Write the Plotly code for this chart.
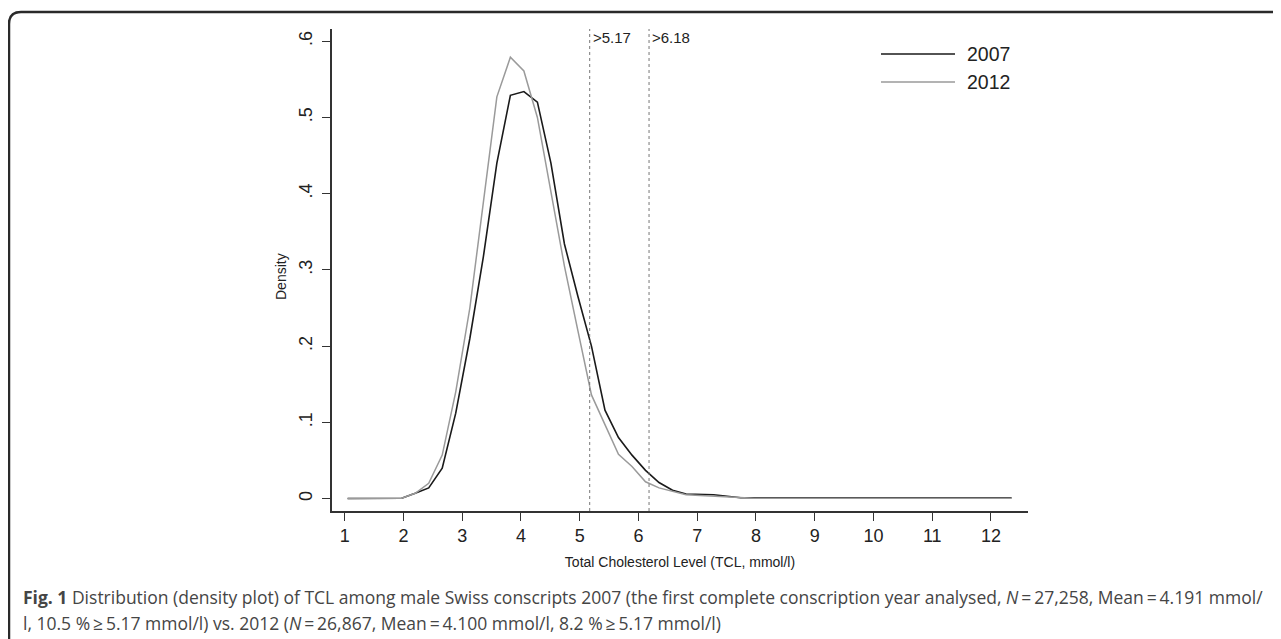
import plotly.graph_objects as go

# ---- data ----
tcl_grid = [1.05, 1.28, 1.51, 1.74, 1.97, 2.20, 2.43, 2.66, 2.89, 3.13,
            3.36, 3.59, 3.82, 4.05, 4.28, 4.51, 4.74, 4.97, 5.20, 5.43,
            5.66, 5.89, 6.12, 6.35, 6.58, 6.81, 7.05, 7.28, 7.51, 7.74,
            7.97, 8.20, 8.43, 8.66, 8.89, 9.12, 9.35, 9.58, 9.81, 10.04,
            10.27, 10.50, 10.73, 10.96, 11.20, 11.43, 11.66, 11.89, 12.12, 12.35]

density_2007 = [0.0, 0.0, 0.0, 0.0, 0.0005, 0.007, 0.014, 0.040, 0.112, 0.210,
                0.317, 0.440, 0.529, 0.534, 0.520, 0.440, 0.334, 0.265, 0.200, 0.116,
                0.080, 0.057, 0.037, 0.021, 0.011, 0.006, 0.005, 0.005, 0.003, 0.001,
                0.001, 0.001, 0.001, 0.001, 0.001, 0.0012, 0.001, 0.001, 0.001, 0.001,
                0.001, 0.001, 0.001, 0.001, 0.001, 0.001, 0.001, 0.001, 0.001, 0.001]

density_2012 = [0.0, 0.0, 0.0, 0.0, 0.0005, 0.007, 0.020, 0.057, 0.140, 0.250,
                0.390, 0.527, 0.579, 0.561, 0.500, 0.400, 0.305, 0.220, 0.136, 0.097,
                0.058, 0.042, 0.022, 0.014, 0.009, 0.005, 0.004, 0.003, 0.002, 0.001,
                0.0005, 0.0005, 0.0005, 0.0005, 0.0005, 0.0005, 0.0005, 0.0005, 0.0005, 0.0005,
                0.0005, 0.0005, 0.0005, 0.0005, 0.0005, 0.0005, 0.0005, 0.0005, 0.0005, 0.0005]

series_names = ["2007", "2012"]
cutoffs = [5.17, 6.18]
cutoff_labels = [">5.17", ">6.18"]
x_ticks = [1, 2, 3, 4, 5, 6, 7, 8, 9, 10, 11, 12]
y_ticks = [0, 0.1, 0.2, 0.3, 0.4, 0.5, 0.6]
y_ticktext = ["0", ".1", ".2", ".3", ".4", ".5", ".6"]
x_title = "Total Cholesterol Level (TCL, mmol/l)"
y_title = "Density"
caption_1 = ("<b>Fig. 1</b> Distribution (density plot) of TCL among male Swiss conscripts 2007 "
             "(the first complete conscription year analysed, <i>N</i>\u2009=\u200927,258, "
             "Mean\u2009=\u20094.191 mmol/")
caption_2 = ("l, 10.5 %\u2009\u2265\u20095.17 mmol/l) vs. 2012 (<i>N</i>\u2009=\u200926,867, "
             "Mean\u2009=\u20094.100 mmol/l, 8.2 %\u2009\u2265\u20095.17 mmol/l)")

# ---- layout geometry (page pixels; page body has an 8px margin) ----
OFF = 8
W, H = 1281 - OFF, 639 - OFF
PL, PR, PT, PB = 332 - OFF, 1028 - OFF, 29 - OFF, 511 - OFF

def px(x):
    return (x - OFF - PL) / (PR - PL)

def py(y):
    return (PB - (y - OFF)) / (PB - PT)

fig = go.Figure()
colors = ["#1a1a1a", "#9a9a9a"]
widths = [1.6, 1.5]
for name, dens, c, w in zip(series_names, [density_2007, density_2012], colors, widths):
    fig.add_trace(go.Scatter(x=tcl_grid, y=dens, mode="lines", name=name,
                             line=dict(color=c, width=w), showlegend=False))

shapes = []
annotations = []
for xc, lab in zip(cutoffs, cutoff_labels):
    shapes.append(dict(type="line", xref="x", yref="paper", x0=xc, x1=xc, y0=0, y1=1,
                       line=dict(color="#777777", width=1, dash="dot")))
    annotations.append(dict(x=xc, y=py(37), xref="x", yref="paper", text=lab,
                            showarrow=False, xanchor="left", yanchor="middle", xshift=1,
                            font=dict(size=15, color="#222222", family="Liberation Sans, Arial")))

# manual legend
for i, (name, c, w) in enumerate(zip(series_names, colors, widths)):
    yy = 54 + i * 28
    shapes.append(dict(type="line", xref="paper", yref="paper", x0=px(881), x1=px(955),
                       y0=py(yy), y1=py(yy), line=dict(color=c, width=w)))
    annotations.append(dict(x=px(965), y=py(yy), xref="paper", yref="paper", text=name,
                            showarrow=False, xanchor="left", yanchor="middle",
                            font=dict(size=19.5, color="#222222", family="Liberation Sans, Arial")))

# y axis title
annotations.append(dict(x=px(281), y=py(277), xref="paper", yref="paper", text=y_title,
                        showarrow=False, textangle=-90, xanchor="center", yanchor="middle",
                        font=dict(size=14, color="#222222", family="Liberation Sans, Arial")))

# caption
for txt, yy in [(caption_1, 597), (caption_2, 623)]:
    annotations.append(dict(x=px(21), y=py(yy), xref="paper", yref="paper", text=txt,
                            showarrow=False, xanchor="left", yanchor="middle", align="left",
                            font=dict(size=17.5, color="#454545", family="Open Sans, Noto Sans")))

# outer frame (rounded corners)
fx0, fy0, fx1, fy1, r = 9, 12, 1300, 660, 12
path = (f"M {px(fx0)},{py(fy1)} L {px(fx0)},{py(fy0 + r)} "
        f"Q {px(fx0)},{py(fy0)} {px(fx0 + r)},{py(fy0)} L {px(fx1)},{py(fy0)}")
shapes.append(dict(type="path", xref="paper", yref="paper", path=path,
                   line=dict(color="#2a2a2a", width=2.5)))

fig.update_layout(
    width=W, height=H,
    margin=dict(l=PL, r=W - PR, t=PT, b=H - PB, pad=0),
    paper_bgcolor="white", plot_bgcolor="white",
    showlegend=False,
    shapes=shapes, annotations=annotations,
    font=dict(family="Liberation Sans, Arial", color="#222222"),
    xaxis=dict(range=[0.784, 12.63], tickvals=x_ticks, ticktext=[str(t) for t in x_ticks],
               showgrid=False, zeroline=False, showline=True, linecolor="#333333", linewidth=1.5,
               ticks="outside", ticklen=8, tickwidth=1.3, tickcolor="#333333",
               tickfont=dict(size=18, color="#222222"),
               title=dict(text=x_title, font=dict(size=14, color="#222222"), standoff=12)),
    yaxis=dict(range=[-0.0163, 0.616], tickvals=y_ticks, ticktext=y_ticktext,
               showgrid=False, zeroline=False, showline=True, linecolor="#333333", linewidth=1.5,
               ticks="outside", ticklen=8, tickwidth=1.3, tickcolor="#333333",
               tickangle=-90, ticklabelstandoff=3, tickfont=dict(size=18, color="#222222")),
)

fig.write_html("out.html")
